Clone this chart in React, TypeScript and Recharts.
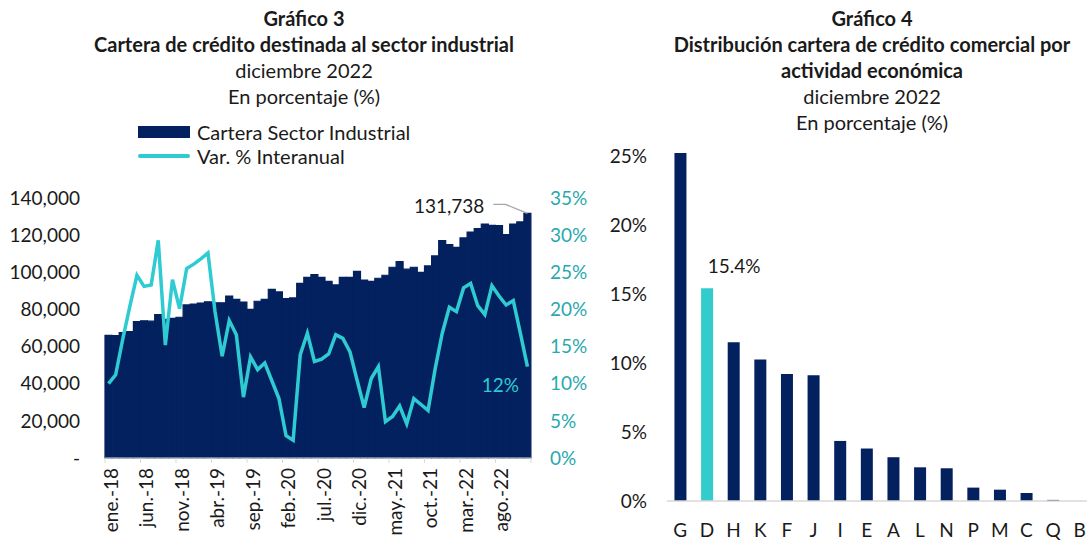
import React from 'react';
import { ComposedChart, BarChart, Bar, Line, XAxis, YAxis, Cell, LabelList } from 'recharts';

const FONT = 'Lato, "Liberation Sans", sans-serif';
const NAVY = '#03215e';
const CYAN = '#2fcbd3';
const HIGHLIGHT = '#33cccc';
const TEAL_TEXT = '#2aa8ad';
const TEXT = '#1a1a1a';
const TICK_FS = 19;
const TITLE_FS = 20;

const monthAbbr = ['ene', 'feb', 'mar', 'abr', 'may', 'jun', 'jul', 'ago', 'sep', 'oct', 'nov', 'dic'];
const yearsShort = ['18', '19', '20', '21', '22'];
const months = yearsShort.flatMap((y) => monthAbbr.map((m) => `${m}.-${y}`));

const carteraIndustrial = [
  66000, 65900, 67500, 68000, 73400, 73900, 73700, 77200, 74700, 75200, 75800, 82400,
  82900, 83400, 84100, 83600, 83600, 87200, 85400, 84000, 80000, 84400, 85400, 90800,
  89400, 85800, 86200, 94000, 97300, 98700, 97300, 95100, 93200, 97300, 97300, 100500,
  95800, 95100, 96800, 98400, 102700, 105700, 101700, 102700, 100000, 103400, 108800, 117000,
  114900, 113400, 118500, 121700, 123500, 126000, 125300, 125100, 120300, 126000, 127100, 131738,
];

const varInteranual = [
  10.0, 11.2, 16.0, 20.4, 24.6, 23.1, 23.3, 29.3, 15.2, 24.0, 20.1, 25.5,
  26.1, 26.8, 27.6, 19.7, 13.7, 18.5, 16.6, 8.2, 13.6, 11.9, 12.8, 10.4,
  8.0, 3.0, 2.4, 13.9, 16.8, 13.0, 13.3, 14.0, 16.6, 16.1, 14.3, 10.5,
  6.8, 10.7, 12.3, 4.9, 5.6, 7.0, 4.6, 8.0, 7.2, 6.4, 12.0, 16.8,
  20.3, 19.7, 22.9, 23.5, 20.5, 19.3, 23.2, 21.8, 20.6, 21.2, 16.8, 12.3,
];

const carteraTicks = [0, 20000, 40000, 60000, 80000, 100000, 120000, 140000];
const variacionTicks = [0, 5, 10, 15, 20, 25, 30, 35];

const sectors = ['G', 'D', 'H', 'K', 'F', 'J', 'I', 'E', 'A', 'L', 'N', 'P', 'M', 'C', 'Q', 'B'];
const sectorShares = [25.2, 15.4, 11.5, 10.24, 9.2, 9.1, 4.35, 3.8, 3.17, 2.44, 2.37, 0.97, 0.82, 0.58, 0.08, 0.0];
const highlightedSector = 'D';
const shareTicks = [0, 5, 10, 15, 20, 25];

const leftData = months.map((m, i) => ({ month: m, cartera: carteraIndustrial[i], variacion: varInteranual[i] }));
const rightData = sectors.map((s, i) => ({ sector: s, share: sectorShares[i] }));

const fmtThousands = (v: number) => (v === 0 ? '-' : v.toLocaleString('en-US'));

const MonthTick = (props: any) => {
  const { x, y, index, payload, width } = props;
  const n = months.length;
  const band = width ? width / n : 7.1;
  const half = band / 2;
  const isLabel = index % 5 === 0;
  const isLast = index === n - 1;
  if (!isLabel && !isLast) return <g />;
  const bx = x - half;
  return (
    <g>
      {isLabel && <line x1={bx} y1={y} x2={bx} y2={y + 5} stroke="#d9d9d9" strokeWidth={1} />}
      {isLast && <line x1={x + half} y1={y} x2={x + half} y2={y + 5} stroke="#d9d9d9" strokeWidth={1} />}
      {isLabel && (
        <text
          x={bx + 6}
          y={y + 10}
          transform={`rotate(-90, ${bx + 6}, ${y + 10})`}
          textAnchor="end"
          dy="0.35em"
          fill={TEXT}
          fontSize={TICK_FS}
          fontFamily={FONT}
        >
          {payload.value}
        </text>
      )}
    </g>
  );
};

const lastBarLabel = (p: any) => {
  if (p.index !== carteraIndustrial.length - 1) return null;
  const cx = p.x + p.width / 2;
  const top = p.y;
  return (
    <g>
      <polyline
        points={`${cx - 34},${top - 9} ${cx - 22},${top - 9} ${cx},${top}`}
        stroke="#a6a6a6"
        strokeWidth={1.3}
        fill="none"
      />
      <text x={cx - 43} y={top - 8} textAnchor="end" dominantBaseline="central" fill={TEXT} fontSize={TICK_FS} fontFamily={FONT}>
        {Number(p.value).toLocaleString('en-US')}
      </text>
    </g>
  );
};

const lastLineLabel = (p: any) => {
  if (p.index !== varInteranual.length - 1) return null;
  return (
    <text x={p.x - 27} y={p.y + 18} textAnchor="middle" dominantBaseline="central" fill={CYAN} fontSize={TICK_FS} fontFamily={FONT}>
      {`${Math.round(Number(p.value))}%`}
    </text>
  );
};

const shareLabel = (p: any) => {
  if (sectors[p.index] !== highlightedSector) return null;
  return (
    <text x={p.x + p.width / 2 + 27} y={p.y - 23} textAnchor="middle" dominantBaseline="central" fill={TEXT} fontSize={TICK_FS} fontFamily={FONT}>
      {`${Number(p.value).toFixed(1)}%`}
    </text>
  );
};

const titleLine = (text: string, bold: boolean) => (
  <div style={{ height: 26, lineHeight: '26px', fontWeight: bold ? 700 : 400, whiteSpace: 'nowrap' }}>{text}</div>
);

export default function App() {
  return (
    <div
      style={{
        position: 'fixed',
        left: 0,
        top: 0,
        width: 1087,
        height: 542,
        overflow: 'hidden',
        background: '#ffffff',
        fontFamily: FONT,
        color: TEXT,
      }}
    >
      <div style={{ position: 'absolute', left: 0, top: 5, width: 608, textAlign: 'center', fontSize: TITLE_FS }}>
        {titleLine('Gráfico 3', true)}
        {titleLine('Cartera de crédito destinada al sector industrial', true)}
        {titleLine('diciembre 2022', false)}
        {titleLine('En porcentaje (%)', false)}
      </div>
      <div style={{ position: 'absolute', left: 622, top: 5, width: 500, textAlign: 'center', fontSize: TITLE_FS }}>
        {titleLine('Gráfico 4', true)}
        {titleLine('Distribución cartera de crédito comercial por', true)}
        {titleLine('actividad económica', true)}
        {titleLine('diciembre 2022', false)}
        {titleLine('En porcentaje (%)', false)}
      </div>

      <div style={{ position: 'absolute', left: 138, top: 119, fontSize: TITLE_FS }}>
        <div style={{ display: 'flex', alignItems: 'center', height: 25 }}>
          <span style={{ display: 'inline-block', width: 52, height: 12, background: NAVY, marginRight: 7 }} />
          <span>Cartera Sector Industrial</span>
        </div>
        <div style={{ display: 'flex', alignItems: 'center', height: 24 }}>
          <span style={{ display: 'inline-block', width: 52, height: 3.5, background: CYAN, borderRadius: 2, marginRight: 7 }} />
          <span>Var. % Interanual</span>
        </div>
      </div>

      <div style={{ position: 'absolute', left: 0, top: 0 }}>
        <ComposedChart
          width={600}
          height={542}
          data={leftData}
          margin={{ top: 198, right: 0, bottom: 0, left: 0 }}
          barCategoryGap={0}
          barGap={0}
        >
          <XAxis
            dataKey="month"
            height={84}
            interval={0}
            tickLine={false}
            tickSize={0}
            tickMargin={0}
            axisLine={{ stroke: '#d9d9d9' }}
            tick={<MonthTick />}
          />
          <YAxis
            yAxisId="left"
            orientation="left"
            width={105}
            domain={[0, 140000]}
            ticks={carteraTicks}
            tickFormatter={fmtThousands}
            axisLine={false}
            tickLine={false}
            tickMargin={19}
            tick={{ fill: TEXT, fontSize: TICK_FS, fontFamily: FONT }}
          />
          <YAxis
            yAxisId="right"
            orientation="right"
            width={69}
            domain={[0, 35]}
            ticks={variacionTicks}
            tickFormatter={(v: number) => `${v}%`}
            axisLine={false}
            tickLine={false}
            tickMargin={13}
            tick={{ fill: TEAL_TEXT, fontSize: TICK_FS, fontFamily: FONT, textAnchor: 'start' }}
          />
          <Bar yAxisId="left" dataKey="cartera" fill={NAVY} stroke={NAVY} strokeWidth={1.2} isAnimationActive={false}>
            <LabelList dataKey="cartera" content={lastBarLabel} />
          </Bar>
          <Line
            yAxisId="right"
            dataKey="variacion"
            type="linear"
            stroke={CYAN}
            strokeWidth={3.5}
            dot={false}
            isAnimationActive={false}
          >
            <LabelList dataKey="variacion" content={lastLineLabel} />
          </Line>
        </ComposedChart>
      </div>

      <div style={{ position: 'absolute', left: 600, top: 0 }}>
        <BarChart
          width={493}
          height={542}
          data={rightData}
          margin={{ top: 153, right: 0, bottom: 0, left: 0 }}
          barCategoryGap="28%"
        >
          <XAxis
            dataKey="sector"
            height={41}
            interval={0}
            tickLine={false}
            tickMargin={17}
            axisLine={{ stroke: '#d9d9d9', strokeWidth: 1.5 }}
            tick={{ fill: TEXT, fontSize: TICK_FS, fontFamily: FONT }}
          />
          <YAxis
            width={67}
            domain={[0, 25.2]}
            ticks={shareTicks}
            tickFormatter={(v: number) => `${v}%`}
            axisLine={false}
            tickLine={false}
            tickMargin={14}
            tick={{ fill: TEXT, fontSize: TICK_FS, fontFamily: FONT }}
          />
          <Bar dataKey="share" isAnimationActive={false}>
            {rightData.map((d) => (
              <Cell key={d.sector} fill={d.sector === highlightedSector ? HIGHLIGHT : NAVY} />
            ))}
            <LabelList dataKey="share" content={shareLabel} />
          </Bar>
        </BarChart>
      </div>
    </div>
  );
}
